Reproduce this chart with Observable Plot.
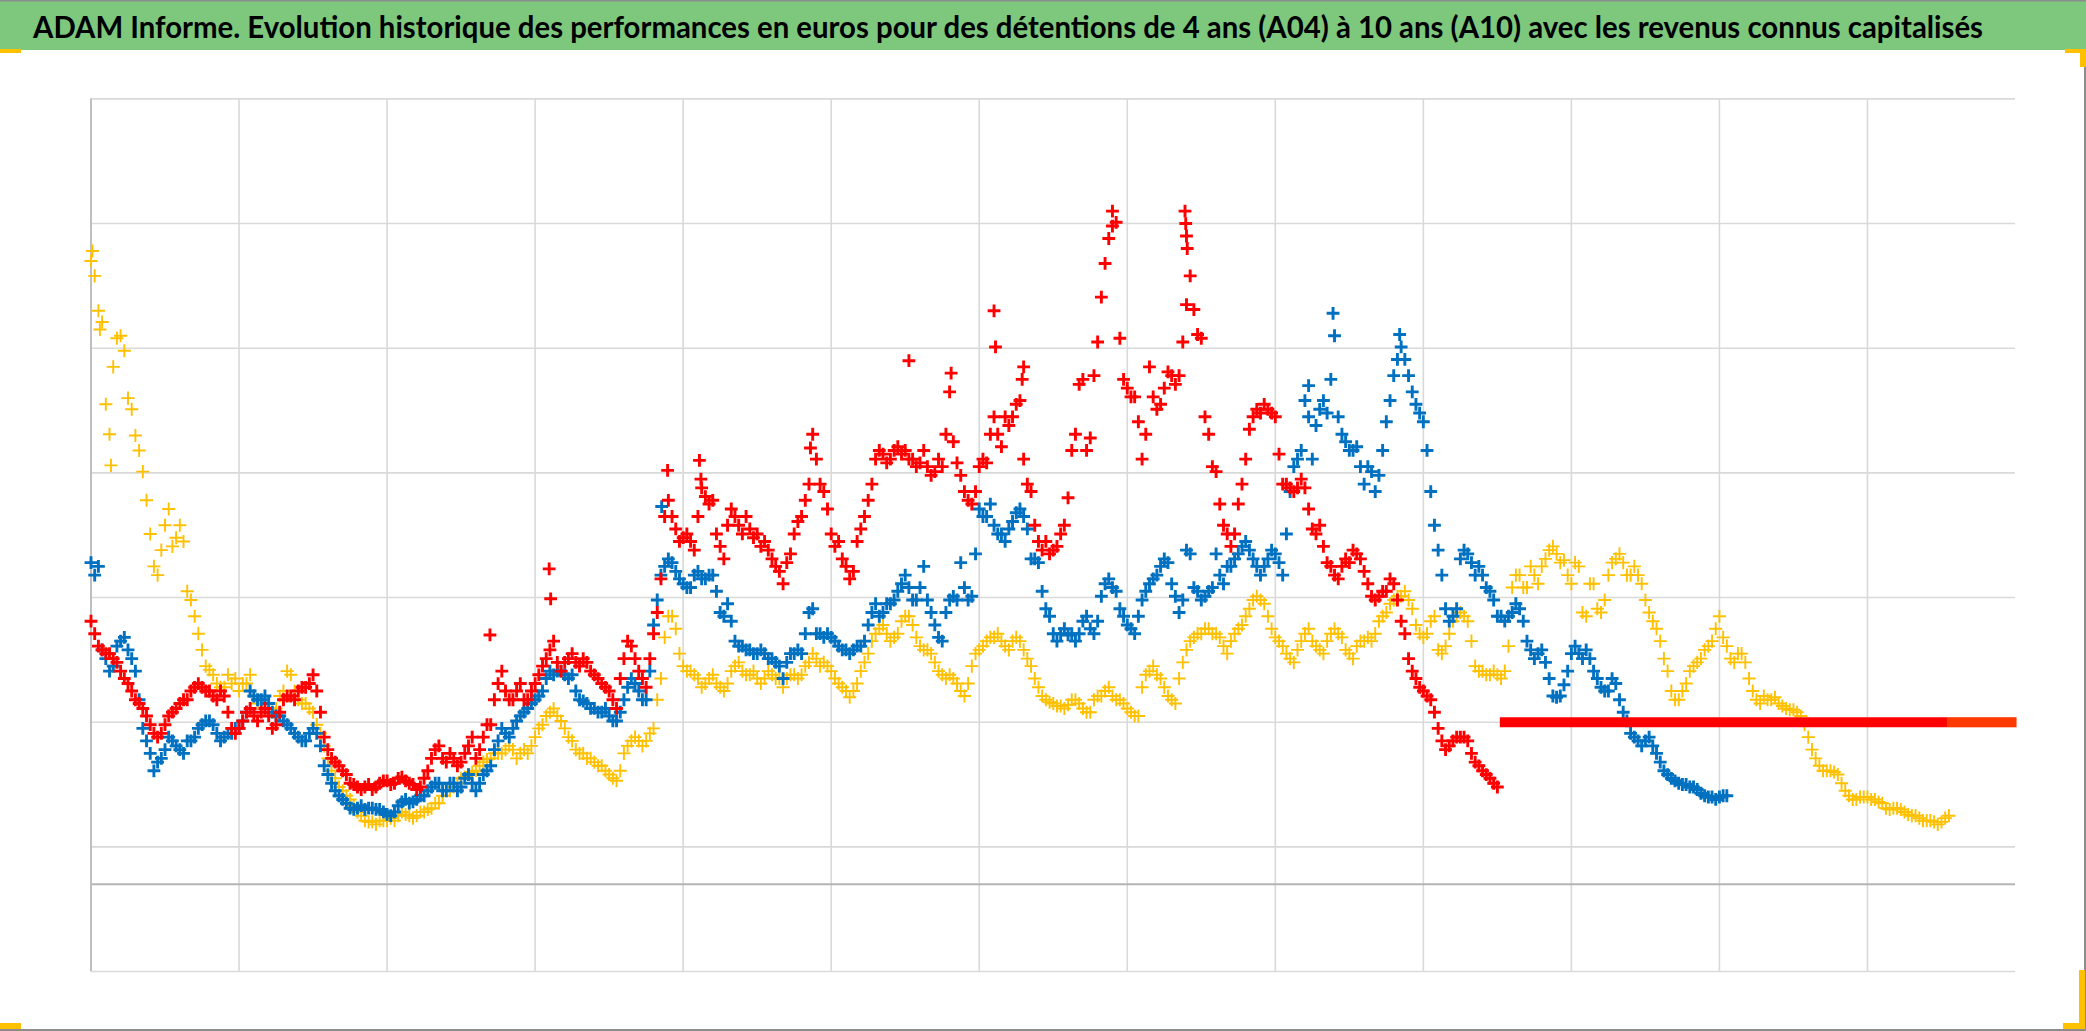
<!DOCTYPE html>
<html><head><meta charset="utf-8">
<script src="https://cdn.jsdelivr.net/npm/d3@7"></script>
<script src="https://cdn.jsdelivr.net/npm/@observablehq/plot@0.6"></script>
<style>
html,body{margin:0;padding:0;background:#fff;}
#frame{position:relative;width:2086px;height:1031px;overflow:hidden;background:#fff;}
#titlebar{position:absolute;left:0;top:0;width:2086px;height:50px;}
#chart{position:absolute;left:0;top:50px;}
.mk{position:absolute;background:#FFC000;}
.bd{position:absolute;background:#8c8c8c;}
</style></head>
<body><div id="frame">
<svg id="titlebar" width="2086" height="50">
  <rect x="0" y="0" width="2086" height="50" fill="#7dc87d"/>
  <rect x="0" y="0" width="2086" height="1.5" fill="#8c8c8c"/>
  <text id="ttl" x="33" y="37.7" font-family="Lato, 'Open Sans', sans-serif" font-weight="700" font-size="29.5" fill="#000" textLength="1950" lengthAdjust="spacingAndGlyphs"></text>
</svg>
<div id="chart"></div>
<div class="bd" style="left:2084px;top:50px;width:2px;height:981px"></div>
<div class="bd" style="left:0;top:1029px;width:2086px;height:2px"></div>
<div class="mk" style="left:0;top:49px;width:21px;height:4px"></div>
<div class="mk" style="left:2065px;top:49px;width:21px;height:4px"></div>
<div class="mk" style="left:2080px;top:49px;width:6px;height:18px"></div>
<div class="mk" style="left:0;top:1023px;width:21px;height:6px"></div>
<div class="mk" style="left:2063px;top:1023px;width:22px;height:6px"></div>
<div class="mk" style="left:2079px;top:970px;width:6px;height:59px"></div>
</div>
<script>
const title = "ADAM Informe. Evolution historique des performances en euros pour des détentions de 4 ans (A04) à 10 ans (A10) avec les revenus connus capitalisés";

// x grid (years, 2-year steps), y grid values (unlabelled in the original)
const xGrid = [2,4,6,8,10,12,14,16,18,20,22,24];
const xDomain = [0, 26];
const yGrid = [-70,30,130,230,330,430,530,630];
const yDomain = [-70, 630];
const step = 0.1;

const seriesNames = ["A04","A07","A10"];
const seriesColors = ["#FFC000","#0070C0","#FF0000"];

// A04 (yellow): values at t = 0, 0.1, 0.2 ...
const a04 = [500,460,385,415,440,390,360,331,281,248,
 288,271,288,235,215,188,172,161,158,161,
 155,161,151,145,141,141,155,168,148,145,
 138,121,101,85,75,68,58,51,50,51,
 51,51,58,55,55,58,61,65,75,78,
 85,88,91,98,101,105,108,108,105,105,
 118,128,138,135,125,115,105,101,98,95,
 88,83,105,115,115,115,125,165,215,205,
 175,171,165,161,168,158,161,175,171,168,
 165,165,168,165,165,168,168,178,181,178,
 171,161,155,155,171,185,201,208,195,201,
 215,208,191,188,178,168,168,161,151,175,
 188,195,198,195,188,198,188,175,158,148,
 145,143,144,148,141,138,151,155,151,148,
 141,135,158,171,168,158,148,165,188,198,
 201,205,201,191,195,205,215,228,228,215,
 198,191,181,188,201,195,188,195,205,198,
 185,191,195,195,211,218,228,231,228,208,
 198,211,188,191,211,218,211,175,171,168,
 168,171,238,248,238,248,255,268,265,260,
 241,255,215,241,218,248,261,258,248,248,
 228,211,195,171,148,155,171,178,188,195,
 215,191,178,185,165,148,151,148,145,141,
 140,135,118,101,91,91,88,75,68,70,
 70,68,65,60,61,58,55,53,51,50,
 50,55];
// A04 values at t = 0.05, 0.15, 0.25 ...
const a04m = [488,451,361,438,428,381,348,308,255,268,
 301,278,275,228,201,175,168,158,168,165,
 161,168,145,141,138,151,171,155,145,141,
 128,111,91,78,71,63,55,50,48,51,
 53,55,56,53,58,60,65,71,75,81,
 86,90,95,100,105,105,111,101,108,111,
 125,135,141,131,118,108,105,101,95,91,
 85,91,111,118,111,121,148,198,215,185,
 171,168,158,165,161,155,171,178,168,171,
 161,171,165,158,168,165,175,185,175,175,
 165,158,150,161,178,195,205,201,198,211,
 215,198,188,185,171,165,165,155,161,185,
 191,198,201,191,195,195,181,165,151,146,
 143,141,148,145,138,148,151,158,148,145,
 138,135,168,175,165,151,145,178,195,201,
 205,201,198,185,201,208,221,231,225,205,
 195,185,178,195,205,191,185,201,201,188,
 181,195,198,201,215,225,231,235,221,201,
 201,215,185,201,215,215,195,171,168,171,
 165,191,248,238,255,241,261,271,258,248,
 258,218,241,221,228,258,265,248,255,241,
 218,205,181,155,148,161,175,181,191,205,
 198,181,185,178,155,145,148,150,143,140,
 138,128,108,95,91,90,81,71,68,70,
 68,66,61,61,60,56,55,51,51,48,
 53];

// A07 (blue)
const a07 = [258,255,181,175,195,188,171,125,105,98,
 108,115,108,115,118,128,131,121,118,121,
 125,138,151,148,145,135,131,125,118,115,
 125,111,88,75,68,61,61,60,61,60,
 56,58,66,65,68,71,78,81,75,81,
 78,88,75,88,95,115,121,125,135,141,
 148,155,171,171,168,168,148,145,141,138,
 135,131,148,165,155,148,208,248,261,251,
 241,238,251,245,248,218,225,195,191,188,
 185,185,181,175,178,185,185,218,201,198,
 198,191,188,188,191,208,225,218,225,235,
 248,228,238,228,208,195,228,228,238,231,
 301,295,288,281,285,298,295,261,258,221,
 201,201,200,195,211,205,211,241,238,221,
 208,201,228,241,248,261,241,218,268,238,
 228,235,265,241,255,265,275,261,248,261,
 265,248,315,341,388,341,381,378,440,361,
 348,351,321,331,328,371,408,431,408,385,
 371,315,268,221,215,261,265,248,248,235,
 215,211,218,221,195,181,188,165,150,160,
 185,185,188,171,158,155,161,138,121,115,
 115,111,98,88,83,80,78,76,71,70,
 70,71];
const a07m = [248,188,171,191,198,181,148,115,91,101,
 118,111,105,115,125,131,128,115,121,125,
 131,155,148,151,138,135,128,121,115,121,
 121,95,81,71,65,60,63,61,60,58,
 55,63,68,66,71,75,81,75,81,75,
 85,81,81,91,108,125,118,131,138,145,
 151,165,168,171,165,155,147,141,138,141,
 131,138,158,161,148,171,228,255,258,245,
 238,248,245,248,235,215,211,191,188,185,
 188,181,178,165,185,188,201,221,201,201,
 195,188,185,191,195,218,215,225,228,241,
 238,228,255,218,198,218,231,258,228,265,
 295,305,281,275,291,301,285,261,235,215,
 195,205,201,201,215,201,231,245,235,215,
 205,215,235,245,255,258,231,228,265,235,
 231,238,248,255,261,271,268,255,255,268,
 258,281,335,348,375,368,388,405,375,355,
 348,335,335,315,348,388,421,421,395,378,
 348,288,248,211,221,268,258,255,238,228,
 215,215,225,211,188,185,178,151,151,171,
 191,181,181,165,155,165,148,131,118,111,
 118,105,91,85,81,80,78,73,70,68,
 71];

// A10 (red)
const a10 = [211,191,185,181,171,161,148,141,128,118,
 128,138,145,148,158,158,155,148,151,125,
 125,138,135,138,135,128,148,151,155,158,
 168,138,108,98,91,81,78,78,76,81,
 83,81,86,81,76,85,101,111,98,101,
 98,111,101,118,128,161,155,148,161,148,
 161,175,188,178,178,185,175,178,168,161,
 155,141,181,191,171,158,201,245,308,285,
 278,275,295,311,308,271,288,295,281,285,
 281,275,261,251,258,281,295,321,341,315,
 281,275,255,251,285,308,341,345,341,351,
 348,341,338,335,331,335,395,338,315,305,
 335,338,375,351,368,385,341,315,275,275,
 268,281,310,361,405,358,435,498,528,438,
 398,391,341,415,381,398,408,408,465,461,
 438,361,331,288,271,305,341,375,378,381,
 375,321,318,318,318,285,288,258,248,255,
 258,265,251,231,231,235,241,211,181,165,
 155,148,125,108,115,118,115,98,91,85,
 78];
const a10m = [201,188,185,178,165,155,145,135,121,121,
 135,141,148,155,161,155,151,155,138,121,
 131,141,131,141,125,138,151,148,158,161,
 155,118,101,95,88,80,76,80,78,83,
 80,85,83,80,78,91,108,101,105,95,
 105,118,108,128,148,171,148,155,148,155,
 168,181,195,171,181,178,181,171,165,158,
 148,165,195,181,165,181,218,295,295,275,
 281,268,318,305,281,261,301,288,295,278,
 271,268,255,241,265,291,308,361,321,301,
 271,261,245,275,295,321,348,338,348,345,
 341,335,348,328,341,361,355,328,308,315,
 341,361,361,375,375,388,321,288,268,265,
 271,288,348,401,348,408,471,518,531,405,
 391,371,361,391,385,411,401,435,488,441,
 375,335,305,281,281,321,365,381,385,378,
 345,321,315,325,301,281,271,255,245,261,
 268,261,241,228,235,245,228,201,171,158,
 151,138,115,111,118,118,105,95,88,81];

// isolated points (spikes): [t, value]
const a04Extra = [[0.02,508],[0.12,445],[0.27,336]];
const a07Extra = [[7.71,303],[16.45,400],[16.78,458],[17.68,441]];
const a10Extra = [[5.39,200],[6.19,253],[6.21,229],[7.79,332],[8.22,340],[8.24,325],[9.72,350],[11.05,420],[11.62,410],[12.2,460],[12.22,431],[12.58,405],[12.6,415],[13.8,540],[14.78,540],[14.79,530],[14.8,520],[14.81,510]];

// constant placeholder values after each series ends
const flatLevel = 130;
const flatStart = [25.08, 22.15, 19.04];
const flatEnd = [26.02, 26.02, 26.02];

document.getElementById("ttl").textContent = title;

const rows = (vals, mids, extra, name) =>
  vals.map((v, i) => ({t: i * step, v, s: name}))
      .concat(mids.map((v, i) => ({t: (i + 0.5) * step, v, s: name})))
      .concat(extra.map(([t, v]) => ({t, v, s: name})));

const d04 = rows(a04, a04m, a04Extra, "A04");
const d07 = rows(a07, a07m, a07Extra, "A07");
const d10 = rows(a10, a10m, a10Extra, "A10");

const dotOpts = (color, sw, r) => ({x: "t", y: "v", symbol: "plus", r, fill: "none", stroke: color, strokeWidth: sw});

const chart = Plot.plot({
  width: 2086, height: 981,
  marginLeft: 90.5, marginRight: 71, marginTop: 48.4, marginBottom: 60,
  x: {domain: xDomain, axis: null},
  y: {domain: yDomain, axis: null},
  style: {background: "transparent", overflow: "visible"},
  marks: [
    Plot.ruleY(yGrid, {stroke: "#d9d9d9", strokeWidth: 1.6}),
    Plot.ruleX(xGrid, {stroke: "#d9d9d9", strokeWidth: 1.6}),
    Plot.ruleY([0], {stroke: "#b4b4b4", strokeWidth: 1.8}),
    Plot.ruleX([0], {stroke: "#bfbfbf", strokeWidth: 2}),
    Plot.dot(d04, dotOpts(seriesColors[0], 1.9, 4.3)),
    Plot.dot(d07, dotOpts(seriesColors[1], 2.9, 4.2)),
    Plot.ruleY([flatLevel], {x1: flatStart[2], x2: flatEnd[2], stroke: seriesColors[2], strokeWidth: 10}),
    Plot.ruleY([flatLevel], {x1: flatStart[0], x2: flatEnd[0], stroke: seriesColors[0], strokeWidth: 10, strokeOpacity: 0.3}),
    Plot.dot(d10, dotOpts(seriesColors[2], 2.9, 4.2))
  ]
});
document.getElementById("chart").appendChild(chart);
</script>
</body></html>
